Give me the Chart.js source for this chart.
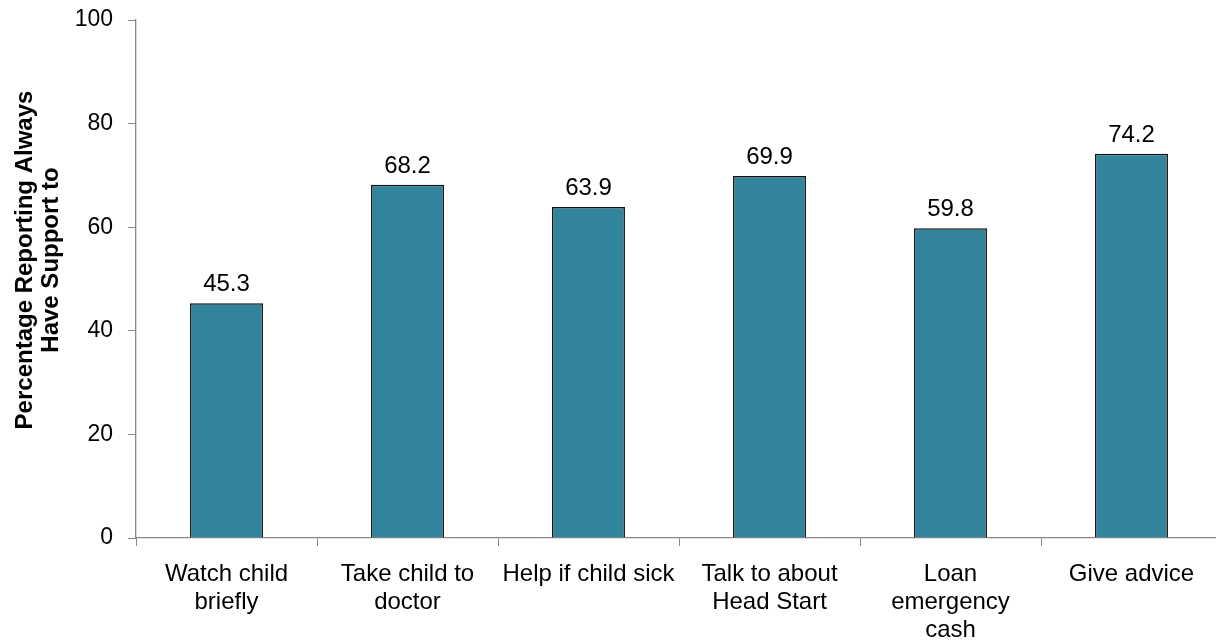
<!DOCTYPE html>
<html>
<head>
<meta charset="utf-8">
<script src="https://cdn.jsdelivr.net/npm/chart.js@4/dist/chart.umd.min.js"></script>
<style>
  html, body { margin: 0; padding: 0; background: #fff; overflow: hidden; }
  #wrap { width: 1216px; height: 642px; overflow: hidden; position: relative; }
  canvas { display: block; }
</style>
</head>
<body>
<div id="wrap"><canvas id="c" width="1222" height="642"></canvas></div>
<script>
const categories = [
  ['Watch child', 'briefly'],
  ['Take child to', 'doctor'],
  ['Help if child sick'],
  ['Talk to about', 'Head Start'],
  ['Loan', 'emergency', 'cash'],
  ['Give advice']
];
const values = [45.3, 68.2, 63.9, 69.9, 59.8, 74.2];
const yTicks = [0, 20, 40, 60, 80, 100];
const yTitle = ['Percentage Reporting Always', 'Have Support to'];

const FONT = '"Liberation Sans", Arial, sans-serif';

const valueLabels = {
  id: 'valueLabels',
  afterDatasetsDraw(chart) {
    const ctx = chart.ctx;
    const meta = chart.getDatasetMeta(0);
    ctx.save();
    ctx.font = '24px ' + FONT;
    ctx.fillStyle = '#000';
    ctx.textAlign = 'center';
    ctx.textBaseline = 'alphabetic';
    meta.data.forEach((bar, i) => {
      ctx.fillText(values[i].toFixed(1), bar.x, bar.y - 12);
    });
    ctx.restore();
  }
};

const yTitlePlugin = {
  id: 'yTitlePlugin',
  afterDraw(chart) {
    const ctx = chart.ctx;
    ctx.save();
    ctx.font = 'bold 24px ' + FONT;
    ctx.fillStyle = '#000';
    ctx.textAlign = 'center';
    ctx.textBaseline = 'middle';
    ctx.translate(25, 260);
    ctx.rotate(-Math.PI / 2);
    yTitle.forEach((line, i) => ctx.fillText(line, 0, i * 26));
    ctx.restore();
  }
};

new Chart(document.getElementById('c'), {
  type: 'bar',
  data: {
    labels: categories,
    datasets: [{
      data: values,
      backgroundColor: '#31849B',
      borderColor: '#111111',
      borderWidth: 1.5,
      borderSkipped: 'bottom',
      barPercentage: 0.403,
      categoryPercentage: 1.0
    }]
  },
  options: {
    responsive: false,
    animation: false,
    devicePixelRatio: 1,
    layout: { padding: { left: 0, right: 0, top: 20, bottom: 0 } },
    plugins: { legend: { display: false }, tooltip: { enabled: false } },
    scales: {
      x: {
        offset: true,
        grid: { display: true, drawOnChartArea: false, drawTicks: true, tickLength: 8, color: '#888', offset: true },
        border: { display: true, color: '#888', width: 1.3 },
        ticks: { color: '#000', font: { family: FONT, size: 24, lineHeight: 1.18 }, padding: 14, maxRotation: 0, autoSkip: false },
        afterFit(scale) { scale.height = 104; scale.paddingLeft = 0; scale.paddingRight = 0; }
      },
      y: {
        min: 0, max: 100,
        afterBuildTicks(scale) { scale.ticks = yTicks.map(v => ({ value: v })); },
        grid: { display: true, drawOnChartArea: false, drawTicks: true, tickLength: 8, color: '#888' },
        border: { display: true, color: '#888', width: 1.3 },
        ticks: { color: '#000', font: { family: FONT, size: 23 }, padding: 15 },
        afterFit(scale) { scale.width = 136; scale.paddingTop = 0; scale.paddingBottom = 0; }
      }
    }
  },
  plugins: [valueLabels, yTitlePlugin]
});
</script>
</body>
</html>
